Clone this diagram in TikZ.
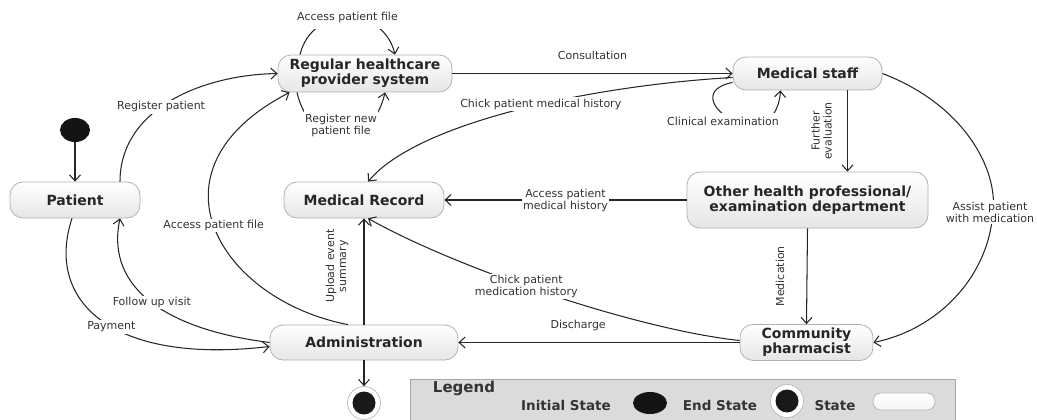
\documentclass[tikz,border=0pt]{standalone}
\usepackage{fontspec}
\setmainfont{DejaVu Sans}
\usetikzlibrary{arrows.meta,shapes.geometric}

\begin{document}
\begin{tikzpicture}[x=1pt,y=-1pt,
  state/.style={draw=gray!60, line width=0.8pt, rounded corners=13pt,
    top color=white, bottom color=gray!20, align=center, inner sep=0pt,
    font=\fontsize{14}{15}\selectfont\bfseries, text=black!85},
  flow/.style={line width=1.05pt, draw=black!85,
    -{Straight Barb[length=6pt,width=11pt,line width=1.05pt]}},
  lbl/.style={font=\fontsize{11}{12}\selectfont, text=black!80,
    fill=white, inner sep=1.5pt, align=center},
  lbltxt/.style={font=\fontsize{11}{12}\selectfont, text=black!80,
    inner sep=1pt, align=center},
  legtxt/.style={font=\fontsize{13.5}{15}\selectfont\bfseries, text=black!80, inner sep=0pt},
  initdot/.style={ellipse, fill=black!92, inner sep=0pt},
  enddot/.style={circle, draw=gray!55, line width=0.7pt, fill=white, inner sep=0pt,
    path picture={\fill[black!90] (path picture bounding box.center) circle (11.5pt);}}
]
\useasboundingbox (0,0) rectangle (1037,420);

% states
\node[initdot, minimum width=30pt, minimum height=24pt] (init) at (75,130) {};
\node[state, minimum width=130pt, minimum height=36pt] (pat) at (75,200) {Patient};
\node[state, minimum width=174pt, minimum height=37pt] (reg) at (365,73.5) {Regular healthcare\\provider system};
\node[state, minimum width=149pt, minimum height=33pt] (ms) at (807.5,73.5) {Medical staff};
\node[state, minimum width=160pt, minimum height=36pt] (mr) at (364,200) {Medical Record};
\node[state, minimum width=241pt, minimum height=56pt] (oth) at (807.5,200) {Other health professional/\\examination department};
\node[state, minimum width=188pt, minimum height=35pt] (adm) at (364,342.5) {Administration};
\node[state, minimum width=133pt, minimum height=36pt] (ph) at (806.5,342.5) {Community\\pharmacist};
\node[enddot, minimum size=33pt] (fin) at (364,403) {};

% transitions
\draw[flow] (init) -- (pat);
\draw[flow] ([xshift=45pt]pat.north) .. controls (120,110) and (200,75) .. (reg.west)
  node[lbl, pos=0.45] {Register patient};
\draw[flow] ([xshift=-65pt]reg.north) .. controls (312,5) and (383,5) .. ([xshift=30pt]reg.north)
  node[lbl, midway, inner ysep=6pt] {Access patient file};
\draw[flow] ([xshift=-68pt]reg.south) .. controls (310,150) and (372,150) .. ([xshift=20pt]reg.south)
  node[lbl, midway, yshift=10pt, inner ysep=4pt] {Register new\\patient file};
\draw[flow] (reg.east) -- (ms.west)
  node[lbltxt, midway, yshift=18pt] {Consultation};
\draw[flow] ([yshift=-4pt]ms.west) .. controls (600,85) and (420,120) .. ([xshift=4pt]mr.north)
  node[lbl, pos=0.45] {Chick patient medical history};
\draw[flow] ([yshift=8pt]ms.south west) .. controls (670,95) and (775,165) .. ([xshift=-27pt]ms.south)
  node[lbl, pos=0.5, xshift=-8pt, yshift=-2pt, inner ysep=4pt] {Clinical examination};
\draw[flow] ([xshift=40pt]ms.south) -- ([xshift=40pt]oth.north)
  node[lbltxt, midway, xshift=-26pt, rotate=90] {Further\\evaluation};
\draw[flow] (oth.west) -- (mr.east)
  node[lbl, midway] {Access patient\\medical history};
\draw[flow] (ms.east) .. controls (965,105) and (998,170) .. (993,212)
  node[lbl, xshift=-3pt] {Assist patient\\with medication}
  .. controls (988,280) and (935,330) .. (ph.east);
\draw[flow] (oth.south) -- (ph.north)
  node[lbltxt, midway, xshift=-27pt, rotate=90] {Medication};
\draw[flow] (ph.west) -- (adm.east)
  node[lbltxt, pos=0.574, yshift=17pt] {Discharge};
\draw[flow] ([yshift=2pt]ph.west) .. controls (640,330) and (460,270) .. ([xshift=4pt]mr.south)
  node[lbl, pos=0.56] {Chick patient\\medication history};
\draw[flow] (adm.north) -- (mr.south)
  node[lbltxt, pos=0.55, xshift=-27pt, rotate=90] {Upload event\\summary};
\draw[flow] ([xshift=-16pt]adm.north) .. controls (220,300) and (140,170) .. ([xshift=12pt]reg.south west)
  node[lbl, pos=0.51] {Access patient file};
\draw[flow] ([xshift=-3pt]pat.south) .. controls (45,300) and (110,365) .. ([yshift=-4pt]adm.west)
  node[lbl, pos=0.55] {Payment};
\draw[flow] (adm.west) .. controls (170,330) and (105,290) .. ([xshift=45pt]pat.south)
  node[lbl, pos=0.5] {Follow up visit};
\draw[flow] (adm.south) -- (fin.north);

% legend
\node[draw=gray!70, line width=0.8pt, fill=gray!28, minimum width=545pt, minimum height=50pt,
  anchor=north west, inner sep=0pt] (legend) at (410,379) {};
\node[legtxt, font=\fontsize{15}{16}\selectfont\bfseries] (legtitle) at (464,388) {Legend};
\node[legtxt] (legi) at (566,405) {Initial State};
\node[initdot, minimum width=34pt, minimum height=22pt] (legidot) at (650,403) {};
\node[legtxt] (lege) at (720,405) {End State};
\node[enddot, minimum size=33pt] (legedot) at (787,401) {};
\node[legtxt] (legs) at (835,406) {State};
\node[draw=gray!55, line width=0.8pt, rounded corners=8pt, top color=white, bottom color=gray!8,
  minimum width=62pt, minimum height=17pt, inner sep=0pt] (legsbox) at (904,401.5) {};
\end{tikzpicture}
\end{document}
